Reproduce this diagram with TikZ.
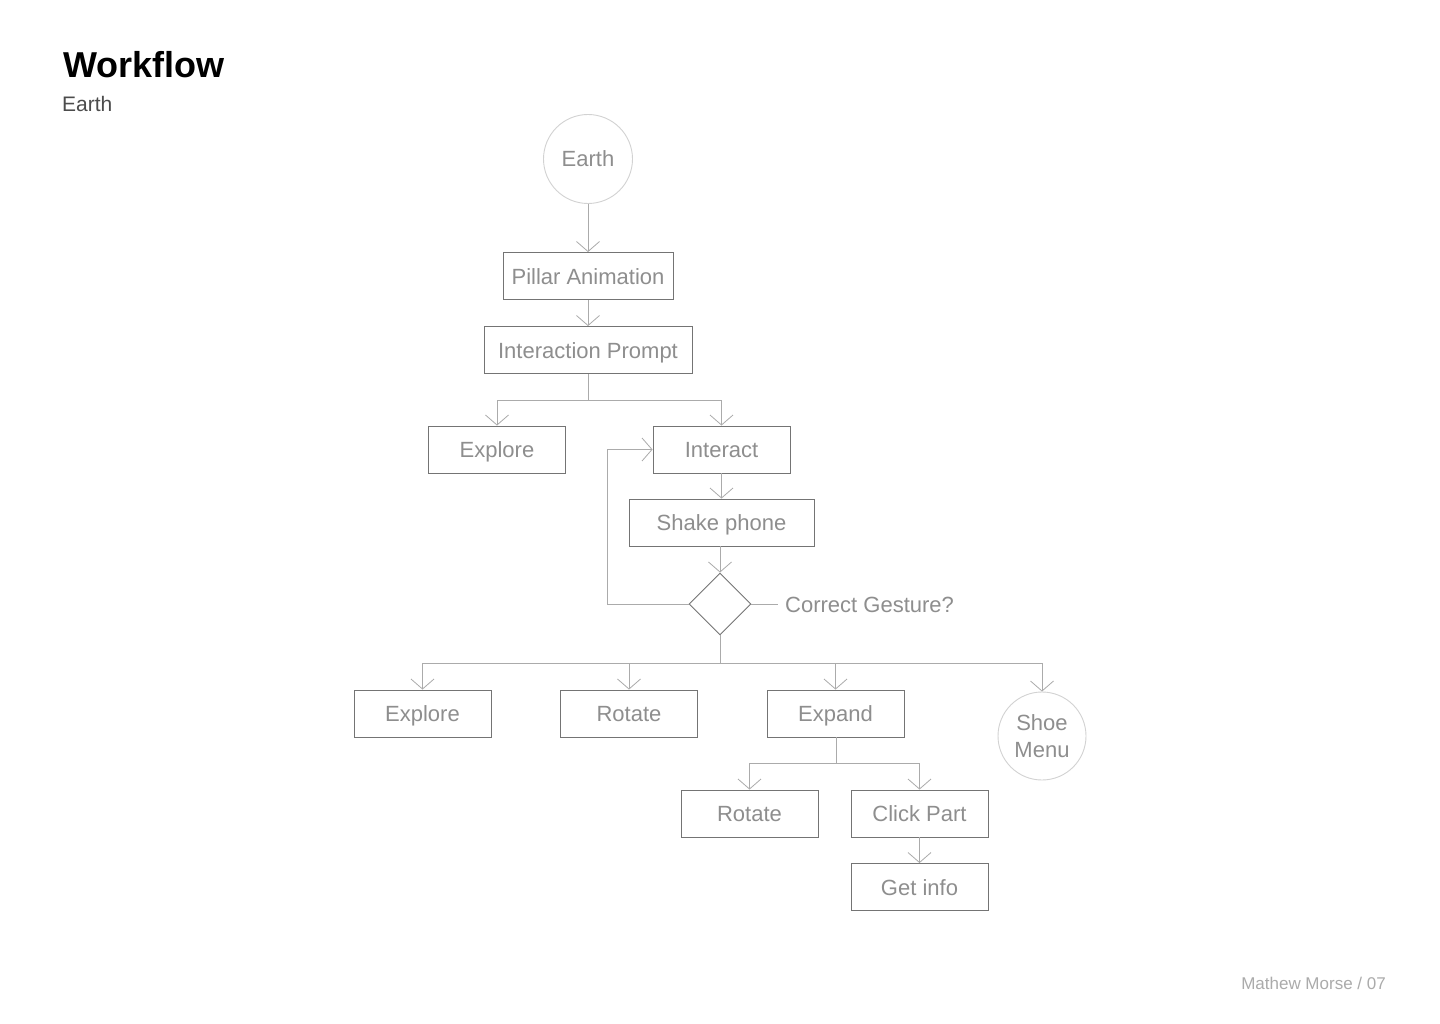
\documentclass[tikz,border=0pt]{standalone}
\usepackage{fontspec}
\setmainfont{Liberation Sans}
\usetikzlibrary{arrows.meta,shapes.geometric}
\definecolor{boxline}{HTML}{747474}
\definecolor{conn}{HTML}{ABABAB}
\definecolor{ring}{HTML}{D2D2D2}
\definecolor{label}{HTML}{8E8E8E}
\definecolor{foot}{HTML}{ABABAB}
\begin{document}
\begin{tikzpicture}[x=1pt,y=-1pt,
  every node/.style={font=\fontsize{22}{26}\selectfont, text=label},
  onelabel/.style={text height=17pt, text depth=1pt},
  stepbox/.style={draw=boxline, line width=0.9pt, rectangle, minimum width=137pt, minimum height=47pt, inner sep=0pt, onelabel},
  endcircle/.style={draw=ring, line width=0.9pt, circle, minimum size=89pt, inner sep=0pt, align=center},
  decision/.style={draw=boxline, line width=0.9pt, diamond, minimum width=62pt, minimum height=62pt, inner sep=0pt},
  link/.style={draw=conn, line width=0.8pt},
  arrow/.style={link, -{Straight Barb[length=10pt,width=23pt,line width=0.8pt]}}
]
\useasboundingbox (0,0) rectangle (1440,1024);
\fill[white] (0,0) rectangle (1440,1024);

% header and footer
\node[anchor=base west, inner sep=0pt, text=black, font=\fontsize{36}{40}\selectfont\bfseries] (title) at (63,78) {Workflow};
\node[anchor=base west, inner sep=0pt, text=black!70, font=\fontsize{21}{24}\selectfont] (subtitle) at (62,112) {Earth};
\node[anchor=base east, inner sep=0pt, text=foot, font=\fontsize{17}{20}\selectfont] (footer) at (1386,989) {Mathew Morse / 07};

% nodes
\node[endcircle, onelabel] (earth) at (588,159) {Earth};
\node[stepbox, minimum width=170pt] (pillar) at (588,276) {Pillar Animation};
\node[stepbox, minimum width=208pt] (prompt) at (588,350) {Interaction Prompt};
\node[stepbox] (explore1) at (497,449.5) {Explore};
\node[stepbox] (interact) at (721.5,449.5) {Interact};
\node[stepbox, minimum width=185pt] (shake) at (721.5,522.5) {Shake phone};
\node[decision] (gesture) at (720,604) {};
\coordinate (qend) at (778,604);
\node[anchor=west, inner sep=0pt, onelabel] (question) at (785,604) {Correct Gesture?};
\node[stepbox] (explore2) at (422.5,713.5) {Explore};
\node[stepbox] (rotate1) at (629,713.5) {Rotate};
\node[stepbox] (expand) at (835.5,713.5) {Expand};
\node[endcircle, minimum size=88pt] (shoe) at (1042,736) {Shoe\\[1pt]Menu};
\node[stepbox] (rotate2) at (749.5,813.5) {Rotate};
\node[stepbox] (click) at (919.5,813.5) {Click Part};
\node[stepbox] (info) at (919.5,887) {Get info};

% straight connectors
\draw[arrow] (earth) -- (pillar);
\draw[arrow] (pillar) -- (prompt);
\draw[arrow] (interact) -- (shake);
\draw[arrow] (shake.south -| gesture) -- (gesture.north);
\draw[link] (gesture.east) -- (qend);
\draw[arrow] (click) -- (info);

% first split
\coordinate (split1) at (588,400);
\draw[link] (prompt.south) -- (split1);
\draw[arrow] (split1) -| (explore1.north);
\draw[arrow] (split1) -| (interact.north);

% retry loop
\draw[arrow] (gesture.west) -- (607,604) |- (interact.west);

% outcomes
\coordinate (split2) at (720,663);
\draw[link] (gesture.south) -- (split2);
\draw[arrow] (split2) -| (explore2.north);
\draw[arrow] (split2) -| (rotate1.north);
\draw[arrow] (split2) -| (expand.north);
\draw[arrow] (split2) -| (shoe.north);

% expand branch
\coordinate (split3) at (836,763);
\draw[link] (expand.south -| split3) -- (split3);
\draw[arrow] (split3) -| (rotate2.north);
\draw[arrow] (split3) -| (click.north);
\end{tikzpicture}
\end{document}
